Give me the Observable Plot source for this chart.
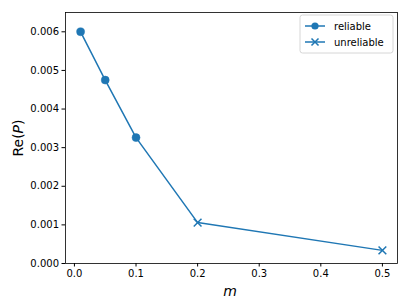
<!DOCTYPE html>
<html><head><meta charset="utf-8">
<script src="https://cdn.jsdelivr.net/npm/d3@7"></script>
<script src="https://cdn.jsdelivr.net/npm/@observablehq/plot@0.6"></script>
<style>
html,body{margin:0;padding:0;background:#fff;}
#chart{position:relative;width:409px;height:307px;}
</style>
</head><body><div id="chart"></div>
<script>
const mReliable = [0.01, 0.05, 0.1];
const reReliable = [0.006, 0.00475, 0.00326];
const mUnreliable = [0.2, 0.5];
const reUnreliable = [0.00106, 0.00034];
const xTicks = [0.0, 0.1, 0.2, 0.3, 0.4, 0.5];
const yTicks = [0, 0.001, 0.002, 0.003, 0.004, 0.005, 0.006];

const reliable = mReliable.map((m, i) => ({m, re: reReliable[i], kind: "reliable"}));
const unreliable = mUnreliable.map((m, i) => ({m, re: reUnreliable[i], kind: "unreliable"}));
const all = reliable.concat(unreliable);
const blue = "#1f77b4";
const font = "DejaVu Sans, sans-serif";

const plot = Plot.plot({
  width: 409, height: 307,
  marginLeft: 65, marginRight: 12, marginTop: 12, marginBottom: 44,
  style: {fontFamily: font, fontSize: "10px", color: "#000", background: "#fff"},
  x: {domain: [-0.0145, 0.5245], ticks: xTicks, tickFormat: d3.format(".1f"), tickSize: 3.5, tickPadding: 3, label: null},
  y: {domain: [0, 0.0065], ticks: yTicks, tickFormat: d3.format(".3f"), tickSize: 3.5, tickPadding: 3, label: null},
  marks: [
    Plot.frame({stroke: "#000", strokeWidth: 0.8}),
    Plot.line(all, {x: "m", y: "re", stroke: blue, strokeWidth: 1.5}),
    Plot.dot(reliable, {x: "m", y: "re", r: 4, fill: blue, stroke: blue, strokeWidth: 0.5, symbol: "circle"}),
    Plot.dot(unreliable, {x: "m", y: "re", r: 3.6, stroke: blue, strokeWidth: 1.5, symbol: "times"}),
    Plot.axisX({ticks: xTicks, tickFormat: d3.format(".1f"), tickSize: 3.5, tickPadding: 3, label: null, fontSize: 10}),
    Plot.axisY({ticks: yTicks, tickFormat: d3.format(".3f"), tickSize: 3.5, tickPadding: 3, label: null, fontSize: 10})
  ]
});
document.getElementById("chart").appendChild(plot);

const svg = d3.select(plot);
// axis labels
svg.append("text").attr("x", 230).attr("y", 296).attr("text-anchor", "middle")
  .attr("font-family", font).attr("font-size", 14).attr("font-style", "italic").text("m");
const yl = svg.append("text").attr("transform", "translate(18,138) rotate(-90)").attr("text-anchor", "middle")
  .attr("dy", "0.35em").attr("font-family", font).attr("font-size", 14);
yl.append("tspan").text("Re(");
yl.append("tspan").attr("font-style", "italic").text("P");
yl.append("tspan").text(")");

// legend
const lg = svg.append("g").attr("transform", "translate(300,15)");
lg.append("rect").attr("width", 93).attr("height", 38).attr("rx", 2.5)
  .attr("fill", "#fff").attr("fill-opacity", 0.8).attr("stroke", "#ccc").attr("stroke-width", 0.8);
const items = [{label: "reliable", sym: "circle"}, {label: "unreliable", sym: "times"}];
items.forEach((it, i) => {
  const y = 11 + i * 16;
  lg.append("line").attr("x1", 5).attr("x2", 25).attr("y1", y).attr("y2", y).attr("stroke", blue).attr("stroke-width", 1.5);
  if (it.sym === "circle") {
    lg.append("circle").attr("cx", 15).attr("cy", y).attr("r", 3.6).attr("fill", blue);
  } else {
    lg.append("path").attr("d", d3.symbol(d3.symbolTimes, 34)()).attr("transform", `translate(15,${y})`)
      .attr("fill", "none").attr("stroke", blue).attr("stroke-width", 1.5);
  }
  lg.append("text").attr("x", 34).attr("y", y).attr("dy", "0.35em").attr("text-anchor", "start")
    .attr("font-family", font).attr("font-size", 10).text(it.label);
});
</script>
</body></html>
